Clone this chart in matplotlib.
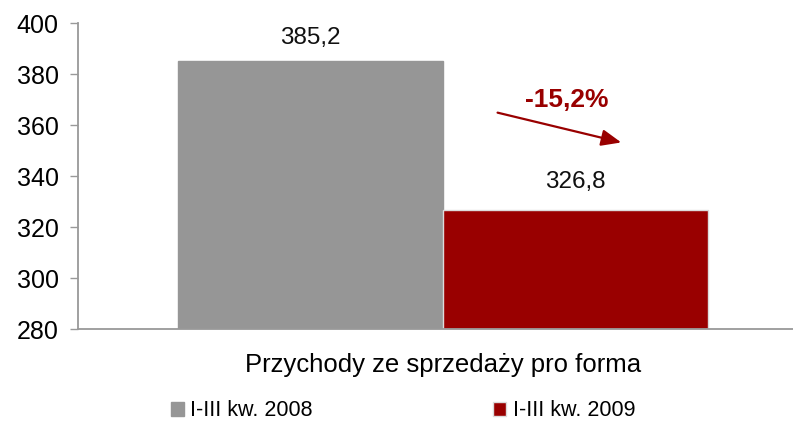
import matplotlib
matplotlib.use("Agg")
import matplotlib.pyplot as plt
from matplotlib.patches import Patch

plt.rcParams['font.family'] = ['Liberation Sans', 'DejaVu Sans']

category = "Przychody ze sprzedaży pro forma"
series_names = ["I-III kw. 2008", "I-III kw. 2009"]
values = [385.2, 326.8]
value_labels = ["385,2", "326,8"]
colors = ["#969696", "#990000"]
edge_colors = ["#969696", "#dcdcdc"]
change_label = "-15,2%"
yticks = [280, 300, 320, 340, 360, 380, 400]

fig = plt.figure(figsize=(7.93, 4.25), dpi=100)
ax = fig.add_axes([78/793, 1 - 329/425, 1 - 78/793, (329 - 23)/425])

positions = [-0.5, 0.5]
for pos, v, c, ec, name in zip(positions, values, colors, edge_colors, series_names):
    ax.bar(pos, v - yticks[0], bottom=yticks[0], width=1.0, color=c, edgecolor=ec,
           linewidth=1, label=name, zorder=2)
ax.annotate(value_labels[0], xy=(positions[0], values[0]), xytext=(0, 16.5),
            textcoords='offset points', ha='center', va='center', fontsize=17.5, color='#111111')
ax.annotate(value_labels[1], xy=(positions[1], values[1]), xytext=(0, 20),
            textcoords='offset points', ha='center', va='center', fontsize=17.5, color='#111111')

ax.set_ylim(280, 400)
ax.set_xlim(-1.377, 1.321)
ax.set_yticks(yticks)
ax.set_yticklabels([str(t) for t in yticks], fontsize=18)
ax.set_xticks([0])
ax.set_xticklabels([category], fontsize=18.5)
ax.tick_params(axis='x', length=0, pad=17)
ax.tick_params(axis='y', length=6, width=1, color='#999999', pad=8, direction='out')

for s in ['top', 'right']:
    ax.spines[s].set_visible(False)
for s in ['left', 'bottom']:
    ax.spines[s].set_color('#999999')
    ax.spines[s].set_linewidth(1.3)

# change arrow
ax.annotate('', xy=(0.683, 352.9), xytext=(0.196, 365.1),
            arrowprops=dict(arrowstyle='-|>,head_length=1.2,head_width=0.5',
                            color='#990000', lw=1.6), zorder=3)
ax.text(0.468, 369.8, change_label, ha='center', va='center', fontsize=19,
        fontweight='bold', color='#990000')

handles = [Patch(facecolor=colors[0], edgecolor=colors[0]),
           Patch(facecolor=colors[1], edgecolor=edge_colors[1])]
fig.legend(handles, series_names, loc='center', bbox_to_anchor=(403/793, 1 - 411/425),
           ncol=2, frameon=False, fontsize=15.5, handlelength=0.6, handleheight=0.6,
           handletextpad=0.3, columnspacing=8.4)

fig.savefig("out.png", dpi=100)
